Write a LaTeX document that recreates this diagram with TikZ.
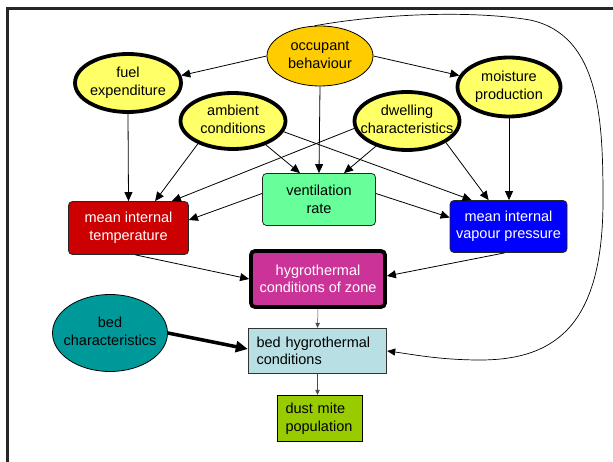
\documentclass[tikz,border=0pt]{standalone}
\usepackage{fontspec}
\setmainfont{Liberation Sans}
\usetikzlibrary{arrows.meta,shapes.geometric}
\definecolor{occC}{HTML}{FFCC00}
\definecolor{yelC}{HTML}{FFFF66}
\definecolor{ventC}{HTML}{66FF99}
\definecolor{tempC}{HTML}{CC0000}
\definecolor{vapC}{HTML}{0000FF}
\definecolor{hygC}{HTML}{CC3399}
\definecolor{bedcC}{HTML}{009999}
\definecolor{bedhC}{HTML}{B8E0E4}
\definecolor{dustC}{HTML}{99CC00}
\newcommand{\ovtext}[1]{\makebox[0pt]{\begin{tabular}{@{}c@{}}#1\end{tabular}}}
\begin{document}
\begin{tikzpicture}[x=1pt,y=-1pt,
  font=\fontsize{14.5}{17.5}\selectfont,
  every node/.style={inner sep=0pt},
  oval/.style={ellipse, draw, fill=yelC, line width=3.8pt},
  rbox/.style={rectangle, rounded corners=4pt, draw=black!85, line width=0.8pt, align=center},
  sbox/.style={rectangle, draw=black!80, line width=1.4pt, align=left, inner xsep=8pt},
  arr/.style={-{Triangle[length=9pt,width=8pt]}, line width=0.8pt},
  thinarr/.style={-{Triangle[length=5pt,width=4.5pt]}, line width=0.5pt, draw=black!70},
  thickarr/.style={-{Triangle[length=12pt,width=11pt]}, line width=3.5pt},
  curvearr/.style={-{Triangle[length=8pt,width=7pt]}, line width=0.7pt}
]
\useasboundingbox (0,0) rectangle (613,462);
\draw[line width=2.6pt, black!85] (7.5,475) -- (7.5,8.3) -- (625,8.3);

% ellipses
\node[ellipse, draw, fill=occC, line width=0.8pt, minimum width=106pt, minimum height=60pt] (occ) at (320,56) {\ovtext{occupant\\behaviour}};
\node[oval, minimum width=106pt, minimum height=58pt] (fuel) at (128,83) {\ovtext{fuel\\expenditure}};
\node[oval, minimum width=103pt, minimum height=59pt] (moist) at (509,87) {\ovtext{moisture\\production}};
\node[oval, minimum width=105pt, minimum height=56pt] (amb) at (233,121) {\ovtext{ambient\\conditions}};
\node[oval, minimum width=105pt, minimum height=58pt] (dwell) at (407,121) {\ovtext{dwelling\\characteristics}};
\node[ellipse, draw, fill=bedcC, line width=0.8pt, minimum width=115pt, minimum height=77pt] (bedc) at (110,333) {\ovtext{bed\\characteristics}};

% boxes
\node[rbox, fill=ventC, minimum width=113pt, minimum height=52pt] (vent) at (319,199.5) {ventilation\\rate};
\node[rbox, fill=tempC, text=white, minimum width=120pt, minimum height=53pt] (temp) at (128.5,228) {mean internal\\temperature};
\node[rbox, fill=vapC, text=white, minimum width=117pt, minimum height=52pt] (vap) at (508.5,226.5) {mean internal\\vapour pressure};
\node[rbox, fill=hygC, draw=black, text=white, line width=3.8pt, minimum width=134pt, minimum height=56pt] (hyg) at (318,279) {hygrothermal\\conditions of zone};
\node[sbox, fill=bedhC, text width=122pt, minimum height=45pt] (bedh) at (317.5,351) {bed hygrothermal\\conditions};
\node[sbox, fill=dustC, draw=black, text width=69pt, minimum height=46pt] (dust) at (320,418.5) {dust mite\\population};

% connectors
\draw[arr] (occ.west) -- (fuel.8);
\draw[arr] (occ.east) -- (moist.167);
\draw[arr] (occ.south) -- (vent.north);
\draw[arr] (fuel.south) -- (temp.north);
\draw[arr] (amb.213) -- ([xshift=87pt]temp.north west);
\draw[arr] (dwell.188) -- ([xshift=-17pt]temp.north east);
\draw[arr] (amb.324) -- ([xshift=-19pt]vent.north);
\draw[arr] (dwell.219) -- ([xshift=25pt]vent.north);
\draw[arr] (amb.348) -- ([xshift=22pt]vap.north west);
\draw[arr] (dwell.331) -- ([xshift=39pt]vap.north west);
\draw[arr] (moist.south) -- (moist.south |- vap.north);
\draw[arr] ([yshift=6pt]vent.west) -- ([yshift=8pt]temp.east);
\draw[arr] ([yshift=6pt]vent.east) -- ([yshift=9pt]vap.west);
\draw[arr] ([xshift=7pt]temp.south) -- (hyg.west);
\draw[arr] ([xshift=-4pt]vap.south) -- ([yshift=3pt]hyg.east);
\draw[thinarr] (hyg.south) -- (bedh.north);
\draw[thinarr] (bedh.south) -- (bedh.south |- dust.north);
\draw[thickarr] (bedc.east) -- ([yshift=2pt]bedh.west);
\draw[curvearr] (occ.100) .. controls (380,14) and (470,10) .. (530,20)
  .. controls (600,35) and (603,120) .. (603,200)
  .. controls (603,320) and (560,360) .. (480,360)
  .. controls (440,360) and (410,354) .. (bedh.east);
\end{tikzpicture}
\end{document}
